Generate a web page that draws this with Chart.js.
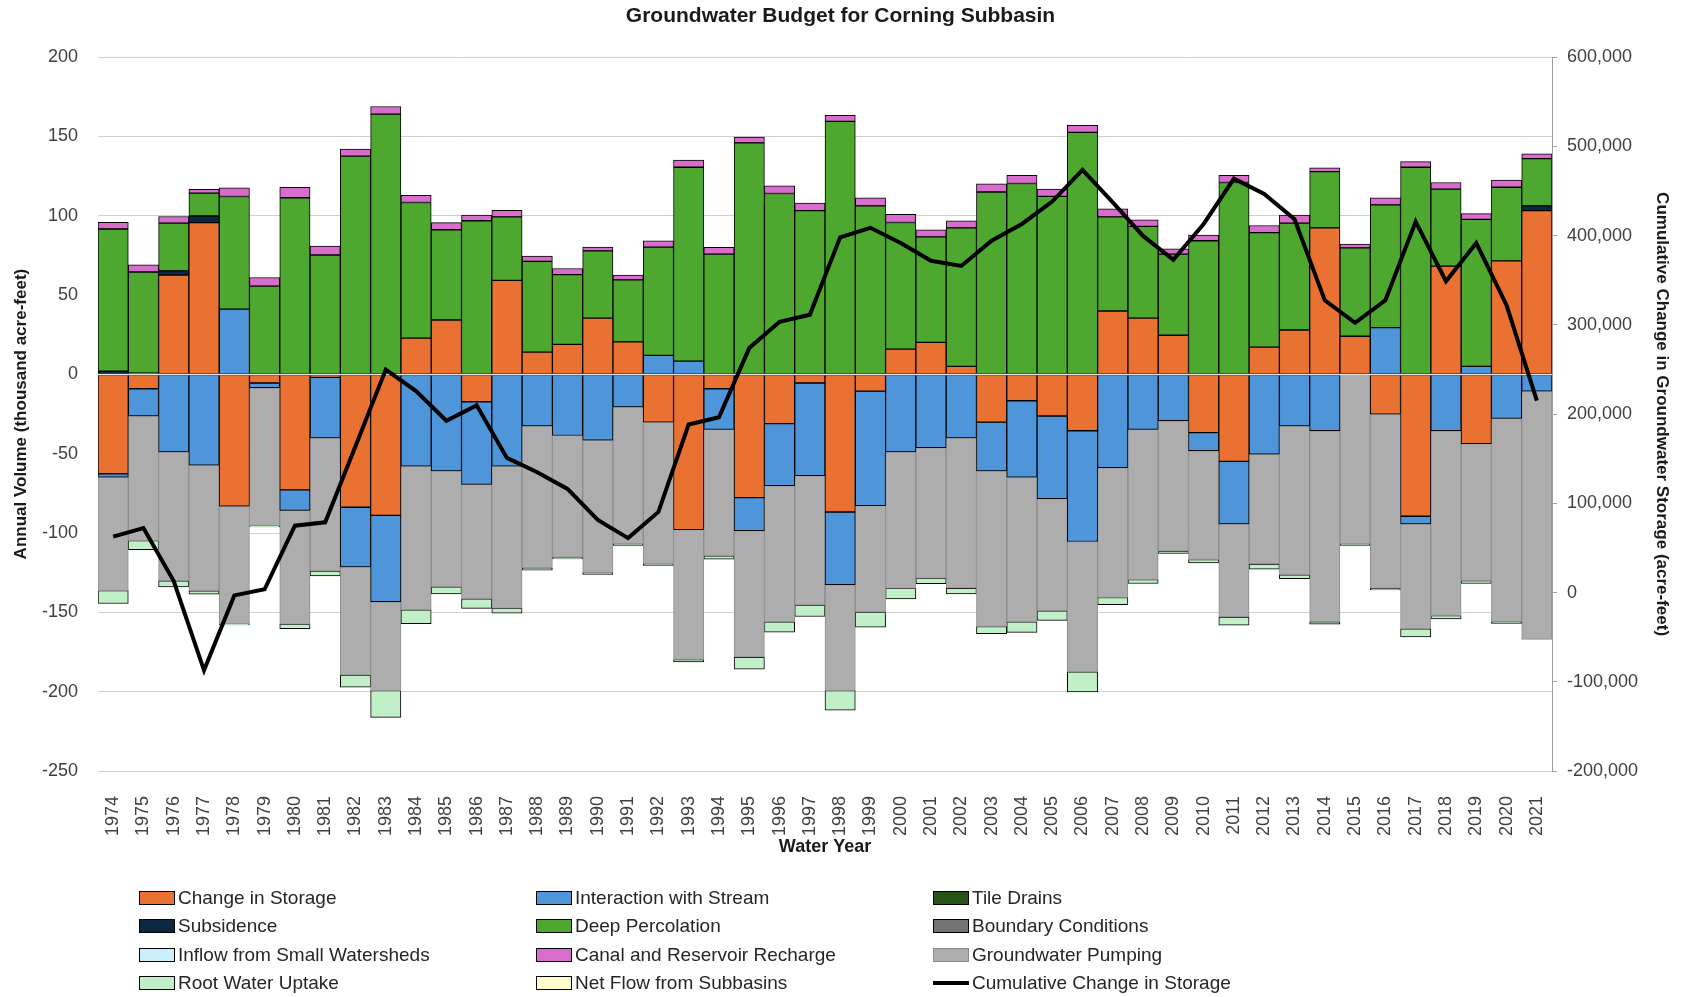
<!DOCTYPE html>
<html>
<head>
<meta charset="utf-8">
<title>Groundwater Budget for Corning Subbasin</title>
<script src="https://cdn.jsdelivr.net/npm/chart.js@4.4.1/dist/chart.umd.min.js"></script>
<style>
    html, body { margin: 0; padding: 0; background: #fff; }
    #wrap { position: relative; width: 1681px; height: 997px; }
    #legend {
        position: absolute; left: 139px; top: 884px;
        display: grid; grid-template-columns: 397px 397px 397px; grid-auto-rows: 28.3px;
        font-family: "Liberation Sans", Arial, sans-serif; font-size: 19px; color: #262626;
    }
    .item { display: flex; align-items: center; white-space: nowrap; }
    .box { width: 34px; height: 12px; border: 1px solid #000; margin-right: 3px; }
    .line { width: 36px; height: 4px; background: #000; margin-right: 3px; }
</style>
</head>
<body>
<div id="wrap">
    <canvas id="myChart" width="1681" height="997"></canvas>
    <div id="legend"></div>
</div>
<script>
const years = [
    "1974", "1975", "1976", "1977", "1978", "1979", "1980", "1981", "1982", "1983", "1984", "1985",
    "1986", "1987", "1988", "1989", "1990", "1991", "1992", "1993", "1994", "1995", "1996", "1997",
    "1998", "1999", "2000", "2001", "2002", "2003", "2004", "2005", "2006", "2007", "2008", "2009",
    "2010", "2011", "2012", "2013", "2014", "2015", "2016", "2017", "2018", "2019", "2020", "2021",
];

// thousand acre-feet
const changeInStorage = [
    -62.6, -9.0, 62.6, 95.7, -83.1, -5.4, -72.8, -1.8, -83.7, -88.8, 22.9, 34.3,
    -17.2, 59.3, 14.1, 19.0, 35.5, 20.5, -30.1, -97.8, -9.0, -77.7, -31.0, -5.4,
    -86.7, -10.5, 16.0, 20.2, 5.1, -30.1, -16.6, -26.2, -35.5, 40.0, 35.5, 24.7,
    -36.7, -54.8, 17.2, 28.0, 92.4, 24.1, -25.0, -89.4, 68.3, -43.6, 71.6, 103.3,
];
const streamInteraction = [
    -2.1, -17.2, -48.8, -57.2, 41.2, -3.0, -12.9, -38.2, -37.6, -54.5, -57.8, -60.8,
    -52.1, -57.8, -32.5, -38.5, -41.5, -20.5, 12.0, 8.4, -25.6, -20.8, -39.1, -58.4,
    -45.8, -72.2, -48.8, -46.1, -40.0, -30.7, -48.2, -52.1, -69.8, -58.7, -34.6, -29.2,
    -11.4, -39.4, -50.3, -32.5, -35.5, null, 29.5, -4.8, -35.5, 5.1, -27.7, -10.5,
];
const tileDrains = [];
const subsidence = [
    2.0, 0.8, 2.7, 4.2, null, null, null, null, null, null, null, null,
    null, null, null, null, null, null, null, null, null, null, null, null,
    null, null, null, null, null, null, null, null, null, null, null, null,
    null, null, null, null, null, null, null, null, null, null, null, 3.0,
];
const deepPercolation = [
    89.7, 63.8, 30.1, 14.4, 71.0, 55.7, 111.4, 75.3, 137.6, 164.1, 85.5, 56.9,
    96.9, 40.0, 57.2, 43.9, 42.4, 39.1, 68.3, 122.2, 75.9, 146.0, 114.1, 103.3,
    159.5, 106.3, 79.8, 66.5, 87.3, 115.0, 120.4, 112.3, 152.6, 59.3, 57.8, 51.2,
    84.3, 121.0, 72.2, 67.4, 35.5, 55.7, 77.4, 130.6, 48.5, 92.7, 46.4, 29.8,
];
const boundaryConditions = [];
const smallWatersheds = [];
const canalRecharge = [
    4.2, 4.5, 4.2, 2.4, 5.4, 5.4, 6.6, 5.7, 4.5, 4.8, 4.5, 4.5,
    3.6, 4.2, 3.3, 3.9, 2.4, 3.0, 3.9, 4.5, 4.2, 3.6, 4.8, 4.8,
    3.9, 5.1, 5.1, 4.5, 4.5, 5.1, 5.1, 4.5, 4.5, 5.1, 4.2, 3.3,
    3.6, 4.5, 4.5, 5.1, 2.4, 2.4, 4.5, 3.6, 4.2, 3.6, 4.5, 3.0,
];
const gwPumping = [
    -71.6, -78.6, -81.3, -79.2, -74.1, -87.0, -71.9, -84.0, -68.3, -56.0, -90.6, -73.1,
    -72.2, -89.7, -89.4, -76.8, -83.4, -86.4, -89.4, -81.9, -79.8, -79.8, -85.8, -81.6,
    -66.8, -67.1, -86.1, -82.5, -94.8, -98.1, -91.2, -70.7, -82.2, -81.9, -94.8, -82.2,
    -68.6, -58.7, -69.2, -93.9, -120.4, -106.9, -109.9, -66.2, -116.5, -86.4, -128.2, -156.5,
];
const rootUptake = [
    -8.1, -5.7, -3.9, -2.1, -0.7, -0.8, -2.7, -3.0, -7.5, -16.9, -8.7, -4.5,
    -6.0, -3.0, -1.5, -1.0, -1.2, -0.9, -0.9, -1.5, -2.1, -7.5, -6.6, -7.2,
    -12.3, -9.6, -6.6, -3.3, -3.6, -4.5, -6.6, -6.0, -12.6, -4.5, -2.4, -1.5,
    -2.1, -5.1, -3.3, -2.4, -1.5, -0.9, -1.0, -5.1, -2.1, -1.8, -1.0, null,
];
const netFlowSubbasins = [];

// acre-feet, right axis
const cumulativeStorage = [
    62600, 72200, 12800, -87200, -3200, 3700, 74900, 78700, 164000, 249900, 225800, 192600,
    209800, 150900, 134800, 116100, 81300, 61000, 90400, 188400, 196400, 274000, 303400, 311400,
    398100, 408800, 391700, 371900, 366000, 394400, 413100, 438200, 473600, 437200, 399700, 372900,
    413100, 463900, 446800, 418400, 327500, 302300, 327500, 415800, 348900, 391700, 322100, 215100,
];

const FONT = "'Liberation Sans', Arial, sans-serif";

function barSet(label, data, color, border) {
    return {
        type: "bar",
        label: label,
        data: data,
        backgroundColor: color,
        borderColor: border || "#000000",
        borderWidth: 1,
        borderSkipped: false,
        barPercentage: 1,
        categoryPercentage: 1,
        stack: "budget",
        order: 1,
        yAxisID: "y",
    };
}

const data = {
    labels: years,
    datasets: [
        barSet("Change in Storage", changeInStorage, "#E97132"),
        barSet("Interaction with Stream", streamInteraction, "#4E95D9"),
        barSet("Tile Drains", tileDrains, "#275317"),
        barSet("Subsidence", subsidence, "#0E2841"),
        barSet("Deep Percolation", deepPercolation, "#4EA72E"),
        barSet("Boundary Conditions", boundaryConditions, "#737373"),
        barSet("Inflow from Small Watersheds", smallWatersheds, "#CAEEFB"),
        barSet("Canal and Reservoir Recharge", canalRecharge, "#D86ECC"),
        barSet("Groundwater Pumping", gwPumping, "#ADADAD", "#8C8C8C"),
        barSet("Root Water Uptake", rootUptake, "#C1F0C8"),
        barSet("Net Flow from Subbasins", netFlowSubbasins, "#FFFFCC"),
        {
            type: "line",
            label: "Cumulative Change in Storage",
            data: cumulativeStorage,
            borderColor: "#000000",
            backgroundColor: "#000000",
            borderWidth: 4,
            pointRadius: 0,
            tension: 0,
            order: 0,
            yAxisID: "y1",
        },
    ],
};

// Excel draws the horizontal axis line over the bars, under the line
const zeroLine = {
    id: "zeroLine",
    beforeDatasetDraw(chart, args) {
        if (args.meta.type !== "line") return;
        const { ctx, chartArea, scales } = chart;
        const y0 = scales.y.getPixelForValue(0);
        ctx.save();
        ctx.strokeStyle = "#e4e4e4";
        ctx.lineWidth = 1.5;
        ctx.beginPath();
        ctx.moveTo(chartArea.left, y0);
        ctx.lineTo(chartArea.right, y0);
        ctx.stroke();
        ctx.restore();
    },
};

const config = {
    data: data,
    options: {
        responsive: false,
        animation: false,
        layout: { padding: 0 },
        plugins: {
            legend: { display: false },
            tooltip: { enabled: false },
            title: {
                display: true,
                text: "Groundwater Budget for Corning Subbasin",
                color: "#1a1a1a",
                font: { family: FONT, size: 21, weight: "bold" },
                padding: { top: 4, bottom: 28 },
            },
        },
        scales: {
            x: {
                stacked: true,
                grid: { display: false },
                border: { display: false },
                ticks: {
                    autoSkip: false,
                    minRotation: 90,
                    maxRotation: 90,
                    padding: 17,
                    color: "#404040",
                    font: { family: FONT, size: 18 },
                },
                title: {
                    display: true,
                    text: "Water Year",
                    color: "#1a1a1a",
                    font: { family: FONT, size: 18, weight: "bold" },
                    padding: { top: 0, bottom: 139 },
                },
                afterFit(scale) {
                    scale.height = 226;
                },
            },
            y: {
                stacked: true,
                position: "left",
                min: -250,
                max: 200,
                grid: { color: "#d0d0d0", drawTicks: false },
                border: { display: false },
                ticks: {
                    stepSize: 50,
                    padding: 20,
                    color: "#404040",
                    font: { family: FONT, size: 18 },
                },
                title: {
                    display: true,
                    text: "Annual Volume (thousand acre-feet)",
                    color: "#1a1a1a",
                    font: { family: FONT, size: 17, weight: "bold" },
                    padding: { top: 11, bottom: 0 },
                },
                afterFit(scale) {
                    scale.width = 98;
                },
            },
            y1: {
                position: "right",
                min: -200000,
                max: 600000,
                grid: { drawOnChartArea: false, tickLength: 5, color: "#a0a0a0" },
                border: { display: true, color: "#a0a0a0" },
                ticks: {
                    stepSize: 100000,
                    padding: 10,
                    color: "#404040",
                    font: { family: FONT, size: 18 },
                },
                title: {
                    display: true,
                    text: "Cumulative Change in Groundwater Storage (acre-feet)",
                    color: "#1a1a1a",
                    font: { family: FONT, size: 17, weight: "bold" },
                    padding: { top: 9, bottom: 0 },
                },
                afterFit(scale) {
                    scale.width = 129;
                },
            },
        },
    },
    plugins: [zeroLine],
};

document.addEventListener("DOMContentLoaded", function () {
    const ctx = document.getElementById("myChart").getContext("2d");
    const myChart = new Chart(ctx, config);

    // legend in three columns like the workbook
    const legend = document.getElementById("legend");
    myChart.data.datasets.forEach((ds) => {
        const item = document.createElement("div");
        item.className = "item";
        const mark = document.createElement("span");
        if (ds.type === "line") {
            mark.className = "line";
        } else {
            mark.className = "box";
            mark.style.background = ds.backgroundColor;
            mark.style.borderColor = ds.borderColor;
        }
        const text = document.createElement("span");
        text.textContent = ds.label;
        item.appendChild(mark);
        item.appendChild(text);
        legend.appendChild(item);
    });
});
</script>
</body>
</html>
